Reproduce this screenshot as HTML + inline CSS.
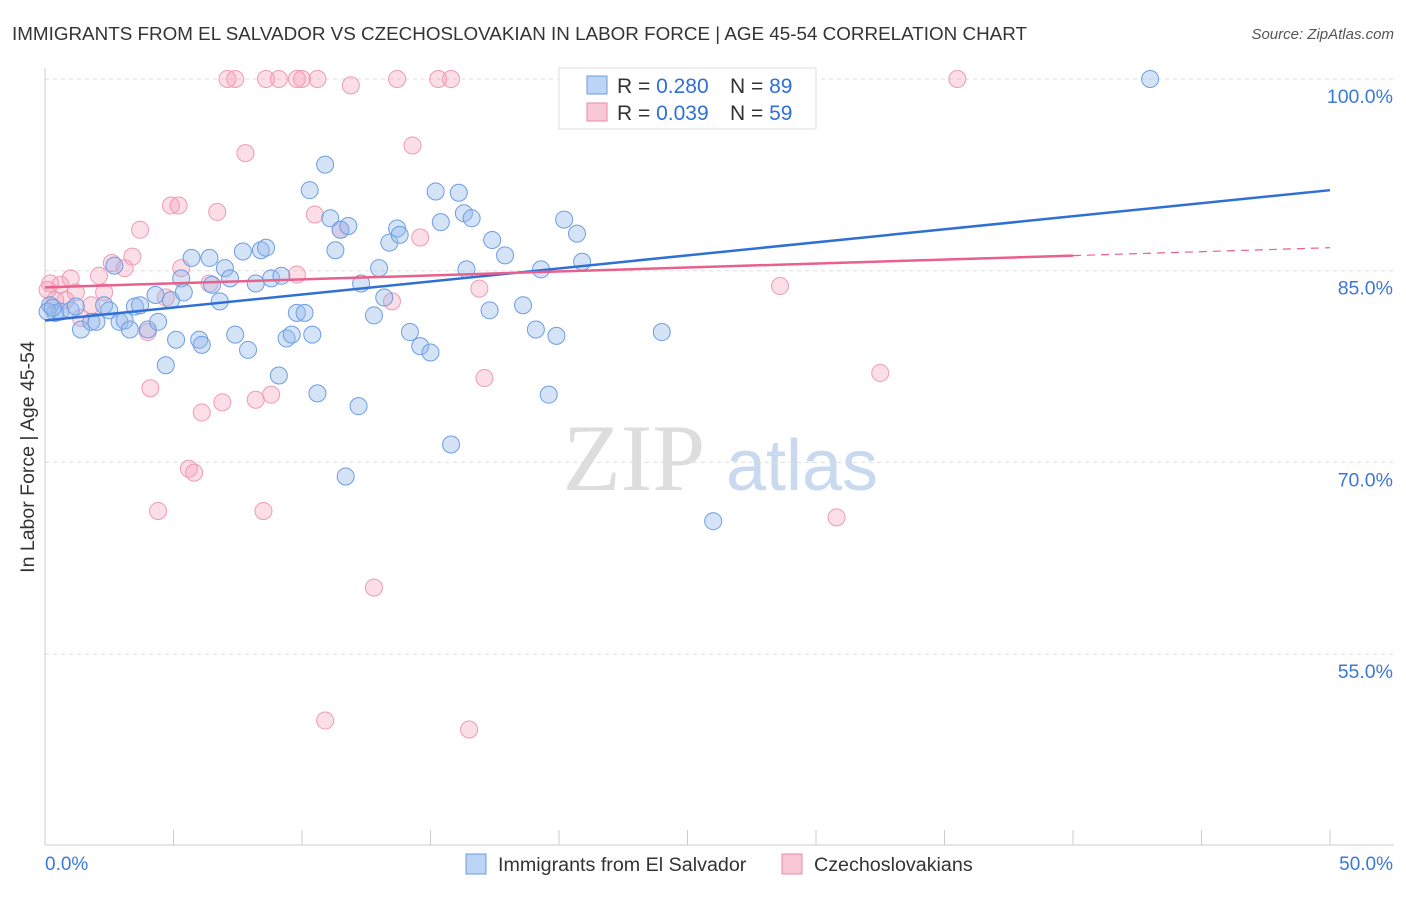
<!DOCTYPE html>
<html><head><meta charset="utf-8"><style>
body{margin:0;background:#fff;font-family:"Liberation Sans",sans-serif;}
svg text{font-family:"Liberation Sans",sans-serif;}
</style></head><body>
<svg id="c" width="1406" height="892" viewBox="0 0 1406 892">
<text x="12" y="40" font-size="18" fill="#333" textLength="1015" lengthAdjust="spacingAndGlyphs">IMMIGRANTS FROM EL SALVADOR VS CZECHOSLOVAKIAN IN LABOR FORCE | AGE 45-54 CORRELATION CHART</text>
<text x="1394" y="39" font-size="15" fill="#555" text-anchor="end" font-style="italic">Source: ZipAtlas.com</text>
<g>
<text x="634" y="490" font-size="95" fill="#ddd" text-anchor="middle" font-family="Liberation Serif" style="font-family:'Liberation Serif',serif">ZIP</text>
<text x="802" y="490" font-size="72" fill="#c9d9ef" text-anchor="middle">atlas</text>
</g>
<g id="grid"></g><g id="axes"></g><g id="pts"></g><g id="trend"></g>
<text transform="translate(34,457) rotate(-90)" font-size="19.5" fill="#333" text-anchor="middle">In Labor Force | Age 45-54</text>
<g>
<rect x="559" y="68" width="257" height="61" fill="#fff" stroke="#ddd"/>
<rect x="587" y="76" width="20" height="18" fill="#bcd4f5" stroke="#6c9be0"/>
<rect x="587" y="103" width="20" height="18" fill="#f9c8d6" stroke="#e88aa8"/>
<text x="617" y="93" font-size="21" fill="#333">R = <tspan fill="#2f6fd6">0.280</tspan></text>
<text x="730" y="93" font-size="21" fill="#333">N = <tspan fill="#2f6fd6">89</tspan></text>
<text x="617" y="120" font-size="21" fill="#333">R = <tspan fill="#2f6fd6">0.039</tspan></text>
<text x="730" y="120" font-size="21" fill="#333">N = <tspan fill="#2f6fd6">59</tspan></text>
</g>
<g>
<rect x="466" y="854" width="20" height="20" fill="#bcd4f5" stroke="#6c9be0"/>
<text x="498" y="871" font-size="19.7" fill="#333">Immigrants from El Salvador</text>
<rect x="782" y="854" width="20" height="20" fill="#f9c8d6" stroke="#e88aa8"/>
<text x="814" y="871" font-size="19.7" fill="#333">Czechoslovakians</text>
</g>
</svg>
<script>
const yTicks=[100,85,70,55];
const yTickLabels=["100.0%","85.0%","70.0%","55.0%"];
const xTickLabels=["0.0%","50.0%"];
const blueX=[0.2,0.4,0.6,1.0,1.2,1.4,1.8,2.0,2.3,2.5,2.7,2.9,3.1,3.3,3.5,3.7,4.0,4.3,4.4,4.7,4.9,5.1,5.3,5.4,5.7,6.0,6.1,6.4,6.5,6.8,7.0,7.2,7.4,7.7,7.9,8.2,8.4,8.6,8.8,9.1,9.2,9.4,9.6,9.8,10.1,10.3,10.4,10.6,10.9,11.1,11.3,11.5,11.7,11.8,12.2,12.3,12.8,13.0,13.2,13.4,13.7,13.8,14.2,14.6,15.0,15.2,15.4,15.8,16.1,16.3,16.4,16.6,17.4,17.9,17.3,18.6,19.3,19.1,19.6,19.9,20.2,20.7,20.9,24.0,26.0,43.0,0.1,0.3];
const blueY=[82.3,81.7,81.8,81.9,82.2,80.4,81.0,81.0,82.3,81.9,85.4,81.0,81.1,80.4,82.2,82.3,80.4,83.1,81.0,77.6,82.7,79.6,84.4,83.3,86.0,79.6,79.2,86.0,83.9,82.6,85.2,84.4,80.0,86.5,78.8,84.0,86.6,86.8,84.4,76.8,84.6,79.7,80.0,81.7,81.7,91.3,80.0,75.4,93.3,89.1,86.6,88.2,68.9,88.5,74.4,84.0,81.5,85.2,82.9,87.2,88.3,87.8,80.2,79.1,78.6,91.2,88.8,71.4,91.1,89.5,85.1,89.1,87.4,86.2,81.9,82.3,85.1,80.4,75.3,79.9,89.0,87.9,85.7,80.2,65.4,100.0,81.8,82.1];
const pinkX=[0.2,0.4,0.6,0.8,1.0,1.2,1.4,1.8,2.1,2.3,2.6,3.1,3.4,3.7,4.0,4.1,4.4,4.7,4.9,5.2,5.3,5.6,5.8,6.1,6.4,6.7,6.9,7.1,7.4,7.8,8.2,8.5,8.6,8.8,9.1,9.8,9.8,10.0,10.5,10.6,10.9,11.5,11.9,12.8,13.5,13.7,14.3,14.6,15.3,15.8,16.5,16.9,17.1,20.5,28.6,30.8,32.5,35.5,0.1];
const pinkY=[84.0,82.7,83.9,82.7,84.4,83.3,81.3,82.3,84.6,83.3,85.6,85.2,86.1,88.2,80.2,75.8,66.2,82.9,90.1,90.1,85.2,69.5,69.2,73.9,84.0,89.6,74.7,100,100,94.2,74.9,66.2,100,75.3,100,84.7,100,100,89.4,100,49.8,88.2,99.5,60.2,82.6,100,94.8,87.6,100,100,49.1,83.6,76.6,100,83.8,65.7,77.0,100,83.5];
const blueTrend=[81.1,91.3];
const pinkTrend=[83.7,86.8];
const pinkSolidEnd=40;
const NS="http://www.w3.org/2000/svg";
const X=v=>45+v*25.7, Y=v=>79+(100-v)*12.78;
function mk(t,a,p){const e=document.createElementNS(NS,t);for(const k in a)e.setAttribute(k,a[k]);document.getElementById(p).appendChild(e);return e;}
yTicks.forEach((t,i)=>{
 let l=mk('line',{x1:45,x2:1394,y1:Y(t),y2:Y(t),stroke:'#ddd','stroke-dasharray':'4,4'},'grid');
 
 
 let tx=mk('text',{x:1393,y:Y(t)+24,'font-size':19.5,fill:'#3b78d8','text-anchor':'end'},'grid');tx.textContent=yTickLabels[i];
 
 
});
let ax=mk('line',{x1:45,x2:45,y1:68,y2:845,stroke:'#ccc'},'axes');


let bx=mk('line',{x1:45,x2:1394,y1:845,y2:845,stroke:'#ccc'},'axes');


for(let i=0;i<=10;i++){let t=mk('line',{x1:X(i*5),x2:X(i*5),y1:830,y2:845,stroke:'#ccc'},'axes');
 
 }
[[0,'start',45],[50,'end',1393]].forEach((d,i)=>{let t=mk('text',{x:d[2],y:870,'font-size':19,fill:'#3b78d8','text-anchor':d[1]},'axes');t.textContent=xTickLabels[i];
 
 });
pinkX.forEach((x,i)=>{let c=mk('circle',{cx:X(x),cy:Y(pinkY[i]),r:8.5,fill:'rgba(245,160,185,0.35)',stroke:'#ef9ab5','stroke-width':1},'pts');
 
 });
blueX.forEach((x,i)=>{let c=mk('circle',{cx:X(x),cy:Y(blueY[i]),r:8.5,fill:'rgba(150,185,235,0.4)',stroke:'#6d9de3','stroke-width':1},'pts');
 
 });
const pAt=x=>pinkTrend[0]+(pinkTrend[1]-pinkTrend[0])*x/50;
let bl=mk('line',{x1:X(0),y1:Y(blueTrend[0]),x2:X(50),y2:Y(blueTrend[1]),stroke:'#2f6fd6','stroke-width':2.5},'trend');


let pl=mk('line',{x1:X(0),y1:Y(pAt(0)),x2:X(pinkSolidEnd),y2:Y(pAt(pinkSolidEnd)),stroke:'#e8608c','stroke-width':2.5},'trend');


let pd=mk('line',{x1:X(pinkSolidEnd),y1:Y(pAt(pinkSolidEnd)),x2:X(50),y2:Y(pAt(50)),stroke:'#e8608c','stroke-width':1.2,'stroke-dasharray':'8,6'},'trend');


</script>
</body></html>
